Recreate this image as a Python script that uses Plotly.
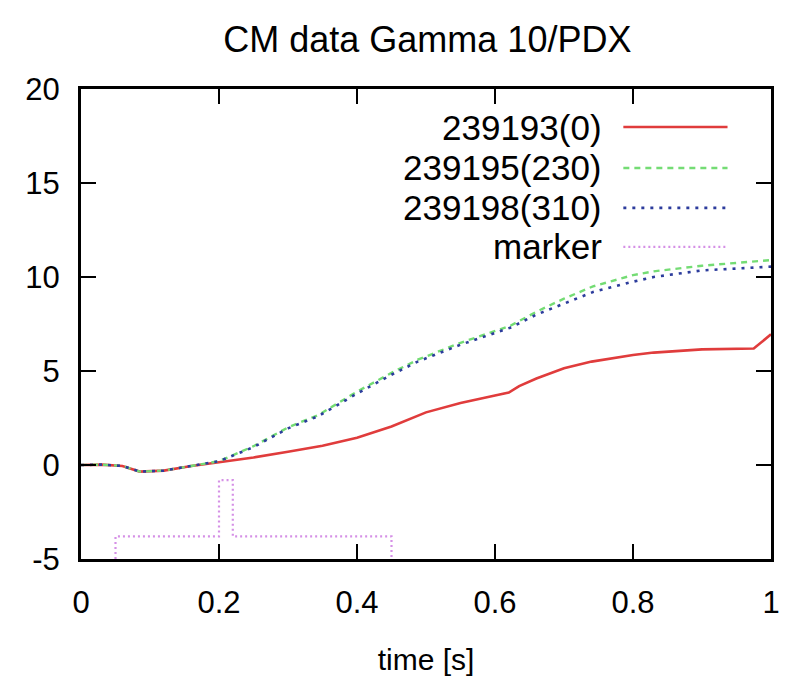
import plotly.graph_objects as go

# ---- data ----
series_names = ["239193(0)", "239195(230)", "239198(310)", "marker"]

t_red = [0, 0.03, 0.06, 0.085, 0.12, 0.16, 0.2, 0.25, 0.3, 0.35, 0.4, 0.45, 0.5, 0.55,
         0.6, 0.62, 0.635, 0.66, 0.7, 0.74, 0.8, 0.83, 0.9, 0.975, 1.0]
y_red = [0, 0.02, -0.05, -0.35, -0.3, -0.05, 0.15, 0.4, 0.7, 1.02, 1.45, 2.05, 2.8, 3.3,
         3.7, 3.85, 4.2, 4.6, 5.15, 5.5, 5.85, 5.98, 6.15, 6.2, 6.95]

t_green = [0, 0.03, 0.06, 0.085, 0.12, 0.16, 0.2, 0.25, 0.3, 0.344, 0.4, 0.45, 0.488, 0.55,
           0.6, 0.622, 0.66, 0.7, 0.742, 0.8, 0.83, 0.9, 0.95, 1.0]
y_green = [0, 0.02, -0.05, -0.35, -0.3, -0.05, 0.2, 1.0, 2.0, 2.66, 3.9, 4.9, 5.6, 6.5,
           7.15, 7.4, 8.15, 8.85, 9.5, 10.1, 10.3, 10.6, 10.75, 10.9]

t_blue = [0, 0.03, 0.06, 0.085, 0.12, 0.16, 0.2, 0.25, 0.3, 0.344, 0.4, 0.45, 0.488, 0.55,
          0.6, 0.622, 0.66, 0.7, 0.742, 0.8, 0.83, 0.9, 0.95, 1.0]
y_blue = [0, 0.02, -0.05, -0.35, -0.3, -0.05, 0.2, 0.95, 1.95, 2.6, 3.8, 4.8, 5.5, 6.4,
          7.05, 7.3, 8.0, 8.6, 9.2, 9.75, 10.0, 10.35, 10.45, 10.55]

t_marker = [0.05, 0.05, 0.2, 0.2, 0.22, 0.22, 0.45, 0.45]
y_marker = [-5, -3.8, -3.8, -0.8, -0.8, -3.8, -3.8, -5]

x_ticks = [0, 0.2, 0.4, 0.6, 0.8, 1]
x_tick_labels = ["0", "0.2", "0.4", "0.6", "0.8", "1"]
y_ticks = [-5, 0, 5, 10, 15, 20]
y_tick_labels = ["-5", "0", "5", "10", "15", "20"]

# ---- styles ----
colors = ["#e03c3c", "#74dc74", "#2c3c9c", "#d590e6"]
dashes = ["solid", "6px,5px", "3px,6px", "2px,3px"]
widths = [2.6, 2.4, 2.6, 2.2]

FONT = "Liberation Sans, Arial, sans-serif"

fig = go.Figure()
data = [(t_red, y_red), (t_green, y_green), (t_blue, y_blue), (t_marker, y_marker)]
for (tx, ty), name, c, d, w in zip(data, series_names, colors, dashes, widths):
    fig.add_trace(go.Scatter(x=tx, y=ty, mode="lines", name=name,
                             line=dict(color=c, dash=d, width=w), showlegend=False))

# gnuplot-style key: right-aligned text followed by line sample
key_y = [0.919, 0.832, 0.747, 0.664]
for name, c, d, w, ky in zip(series_names, colors, dashes, widths, key_y):
    fig.add_annotation(xref="paper", yref="paper", x=0.758, y=ky, text=name,
                       showarrow=False, xanchor="right", yanchor="middle",
                       font=dict(family=FONT, size=35, color="black"))
    fig.add_shape(type="line", xref="paper", yref="paper", x0=0.786, x1=0.937,
                  y0=ky, y1=ky, line=dict(color=c, dash=d, width=w))

axis_common = dict(showline=True, mirror="allticks", linecolor="black", linewidth=3,
                   ticks="inside", ticklen=15, tickwidth=2, tickcolor="black",
                   showgrid=False, zeroline=False,
                   tickfont=dict(family=FONT, size=31, color="black"))

fig.update_layout(
    width=792, height=684,
    margin=dict(l=81, r=16, t=89, b=125),
    paper_bgcolor="white", plot_bgcolor="white",
    title=dict(text="CM data Gamma 10/PDX", x=0.5396, xanchor="center",
               y=0.943, yanchor="middle",
               font=dict(family=FONT, size=36, color="black")),
    xaxis=dict(range=[0, 1], tickvals=x_ticks, ticktext=x_tick_labels,
               title=dict(text="time [s]", font=dict(family=FONT, size=30, color="black"),
                          standoff=30),
               ticklabelstandoff=14, **axis_common),
    yaxis=dict(range=[-5, 20], tickvals=y_ticks, ticktext=y_tick_labels,
               ticklabelstandoff=12, **axis_common),
)

fig.write_html("out.html")
